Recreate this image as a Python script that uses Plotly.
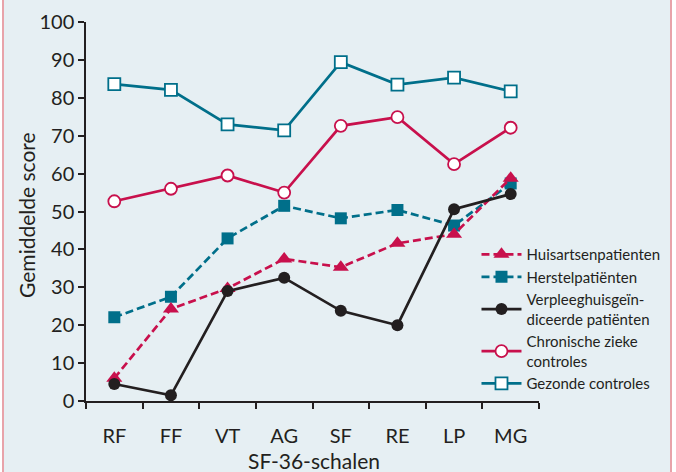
import plotly.graph_objects as go

categories = ["RF", "FF", "VT", "AG", "SF", "RE", "LP", "MG"]
huisarts = [6.0, 24.3, 29.7, 37.5, 35.3, 41.6, 44.0, 58.8]
herstel = [22.1, 27.5, 42.9, 51.5, 48.2, 50.4, 46.3, 57.4]
verpleeg = [4.5, 1.5, 29.0, 32.5, 23.8, 20.0, 50.6, 54.6]
chronisch = [52.7, 56.0, 59.5, 55.0, 72.6, 74.9, 62.5, 72.1]
gezond = [83.6, 82.1, 73.0, 71.4, 89.4, 83.5, 85.3, 81.7]
y_ticks = [0, 10, 20, 30, 40, 50, 60, 70, 80, 90, 100]

CRIMSON = "#c8104c"
TEAL = "#006f8a"
BLACK = "#231f20"
BG = "#e6eff3"
FONT = "Lato"

fig = go.Figure()

fig.add_trace(go.Scatter(
    x=categories, y=herstel, name="Herstelpatiënten", legendrank=2,
    mode="lines+markers",
    line=dict(color=TEAL, width=2.7, dash="8px,4px"),
    marker=dict(symbol="square", size=12, color=TEAL)))
fig.add_trace(go.Scatter(
    x=categories, y=huisarts, name="Huisartsenpatienten", legendrank=1,
    mode="lines+markers",
    line=dict(color=CRIMSON, width=2.7, dash="8px,4px"),
    marker=dict(symbol="triangle-up", size=14, color=CRIMSON)))
fig.add_trace(go.Scatter(
    x=categories, y=verpleeg, name="Verpleeghuisgeïn-<br>diceerde patiënten", legendrank=3,
    mode="lines+markers",
    line=dict(color=BLACK, width=2.7),
    marker=dict(symbol="circle", size=12, color=BLACK)))
fig.add_trace(go.Scatter(
    x=categories, y=chronisch, name="Chronische zieke<br>controles", legendrank=4,
    mode="lines+markers",
    line=dict(color=CRIMSON, width=2.7),
    marker=dict(symbol="circle", size=12, color="white", line=dict(color=CRIMSON, width=1.8))))
fig.add_trace(go.Scatter(
    x=categories, y=gezond, name="Gezonde controles", legendrank=5,
    mode="lines+markers",
    line=dict(color=TEAL, width=2.7),
    marker=dict(symbol="square", size=12, color="white", line=dict(color=TEAL, width=1.8))))

shapes = [
    dict(type="rect", xref="paper", yref="paper", xsizemode="pixel", xanchor=0,
         x0=-90, x1=-84, y0=-1, y1=2, fillcolor="white", line=dict(width=0), layer="below"),
    dict(type="rect", xref="paper", yref="paper", xsizemode="pixel", xanchor=0,
         x0=-84, x1=-82, y0=-1, y1=2, fillcolor="#e8a3aa", line=dict(width=0), layer="below"),
    dict(type="rect", xref="paper", yref="paper", xsizemode="pixel", xanchor=1,
         x0=131, x1=133, y0=-1, y1=2, fillcolor="#e8a3aa", line=dict(width=0), layer="below"),
    dict(type="rect", xref="paper", yref="paper", xsizemode="pixel", xanchor=1,
         x0=133, x1=150, y0=-1, y1=2, fillcolor="white", line=dict(width=0), layer="below"),
]

annotations = [
    dict(text="SF-36-schalen", xref="paper", yref="paper", x=0.5044, y=-0.1557,
         xanchor="center", yanchor="middle", showarrow=False,
         font=dict(size=21, color=BLACK, family=FONT)),
    dict(text="Gemiddelde score", xref="paper", yref="paper", x=-0.1302, y=0.491,
         xanchor="center", yanchor="middle", textangle=-90, showarrow=False,
         font=dict(size=21, color=BLACK, family=FONT)),
]

fig.update_layout(
    width=676, height=472,
    margin=dict(l=86, r=137, t=22, b=71, autoexpand=False),
    paper_bgcolor=BG, plot_bgcolor=BG,
    font=dict(family=FONT, color=BLACK),
    shapes=shapes,
    annotations=annotations,
    showlegend=True,
    legend=dict(x=0.862, xanchor="left", y=0.43, yanchor="top",
                bgcolor="rgba(0,0,0,0)", font=dict(size=15, color=BLACK),
                tracegroupgap=0, itemwidth=40),
    xaxis=dict(type="category", range=[-0.5, 7.5], showgrid=False, zeroline=False,
               automargin=False,
               showline=True, linecolor=BLACK, linewidth=1.5,
               ticks="outside", tickson="boundaries", ticklen=6, tickcolor=BLACK, tickwidth=1.5,
               ticklabelstandoff=16,
               tickfont=dict(size=20, color=BLACK)),
    yaxis=dict(range=[0, 100], tickvals=y_ticks, showgrid=False, zeroline=False,
               automargin=False,
               showline=True, linecolor=BLACK, linewidth=1.5,
               ticks="outside", ticklen=6, tickcolor=BLACK, tickwidth=1.5,
               tickfont=dict(size=20, color=BLACK)),
)

fig.write_html("out.html", config={"displayModeBar": False},
               post_script="document.body.style.margin='0';")
